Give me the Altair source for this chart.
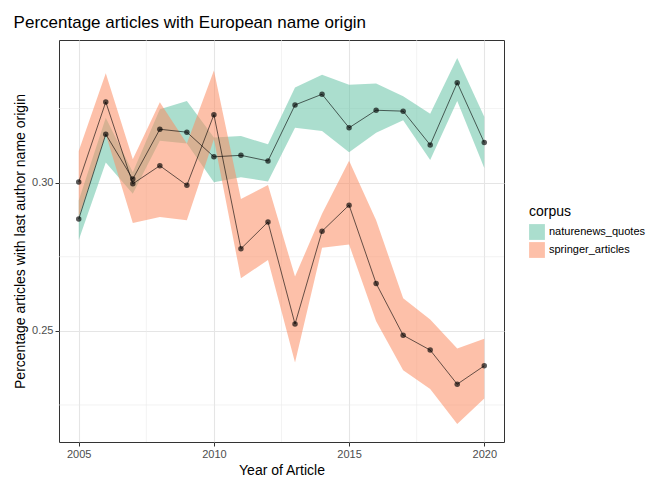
import altair as alt
import pandas as pd

years = list(range(2005, 2021))
corpora = ["naturenews_quotes", "springer_articles"]

nature_mean = [0.2877, 0.3163, 0.3012, 0.3180, 0.3170, 0.3087, 0.3092, 0.3073,
               0.3262, 0.3298, 0.3185, 0.3244, 0.3241, 0.3127, 0.3337, 0.3135]
nature_hi = [0.2940, 0.3219, 0.3035, 0.3247, 0.3275, 0.3152, 0.3157, 0.3129,
             0.3321, 0.3364, 0.3330, 0.3334, 0.3291, 0.3232, 0.3420, 0.3222]
nature_lo = [0.2806, 0.3068, 0.2962, 0.3141, 0.3132, 0.3001, 0.3018, 0.3004,
             0.3185, 0.3174, 0.3102, 0.3168, 0.3210, 0.3076, 0.3275, 0.3049]

springer_mean = [0.3002, 0.3272, 0.2996, 0.3057, 0.2991, 0.3229, 0.2777, 0.2867,
                 0.2523, 0.2836, 0.2924, 0.2660, 0.2485, 0.2435, 0.2320, 0.2382]
springer_hi = [0.3107, 0.3369, 0.3079, 0.3271, 0.3132, 0.3378, 0.2945, 0.2992,
               0.2683, 0.2895, 0.3074, 0.2873, 0.2610, 0.2538, 0.2440, 0.2473]
springer_lo = [0.2884, 0.3163, 0.2864, 0.2884, 0.2873, 0.3146, 0.2677, 0.2739,
               0.2393, 0.2780, 0.2791, 0.2532, 0.2367, 0.2304, 0.2186, 0.2272]

minor_y = [0.225, 0.275, 0.325]
minor_x = [2007.5, 2012.5, 2017.5]

df = pd.concat([
    pd.DataFrame({"year": years, "corpus": corpora[0], "mean": nature_mean,
                  "lo": nature_lo, "hi": nature_hi}),
    pd.DataFrame({"year": years, "corpus": corpora[1], "mean": springer_mean,
                  "lo": springer_lo, "hi": springer_hi}),
])

xs = alt.Scale(domain=[2004.27, 2020.73], nice=False, zero=False)
ys = alt.Scale(domain=[0.2125, 0.3481], nice=False, zero=False)

base = alt.Chart(df)

minor_h = alt.Chart(pd.DataFrame({"v": minor_y})).mark_rule(
    color="#ebebeb", strokeWidth=0.6
).encode(y=alt.Y("v:Q", scale=ys))
minor_v = alt.Chart(pd.DataFrame({"v": minor_x})).mark_rule(
    color="#ebebeb", strokeWidth=0.6
).encode(x=alt.X("v:Q", scale=xs))

band = base.mark_area(opacity=0.55).encode(
    x=alt.X("year:Q", scale=xs, title="Year of Article",
            axis=alt.Axis(values=[2005, 2010, 2015, 2020], format="d")),
    y=alt.Y("lo:Q", scale=ys, title="Percentage articles with last author name origin",
            axis=alt.Axis(values=[0.25, 0.30], format=".2f")),
    y2="hi:Q",
    color=alt.Color("corpus:N", title="corpus",
                    scale=alt.Scale(domain=corpora, range=["#66c2a5", "#fc8d62"]),
                    legend=alt.Legend(symbolType="square", symbolSize=250,
                                      symbolOpacity=0.55, symbolStrokeWidth=0,
                                      orient="none", legendX=470, legendY=165)),
)

line = base.mark_line(color="black", opacity=0.6, strokeWidth=1).encode(
    x=alt.X("year:Q", scale=xs), y=alt.Y("mean:Q", scale=ys), detail="corpus:N"
)
pts = base.mark_circle(color="black", opacity=0.65, size=30).encode(
    x=alt.X("year:Q", scale=xs), y=alt.Y("mean:Q", scale=ys)
)

chart = alt.layer(minor_h, minor_v, band, line, pts).properties(
    width=445, height=402,
    title=alt.Title("Percentage articles with European name origin", anchor="start",
                    fontSize=17, fontWeight="normal", color="black", offset=8),
).configure_view(stroke="#333333", strokeWidth=1).configure_axis(
    gridColor="#e5e5e5", gridWidth=1.1, domain=False, tickColor="#333333",
    labelColor="#4d4d4d", labelFontSize=11, titleFontSize=14, titleColor="black",
    titleFontWeight="normal", labelFont="Liberation Sans", titleFont="Liberation Sans",
    tickSize=4,
).configure_legend(
    titleFontSize=14, titleFontWeight="normal", labelFontSize=11,
    labelFont="Liberation Sans", titleFont="Liberation Sans",
).configure_title(font="Liberation Sans")

chart.save("out.html", embed_options={"renderer": "svg", "actions": False})
